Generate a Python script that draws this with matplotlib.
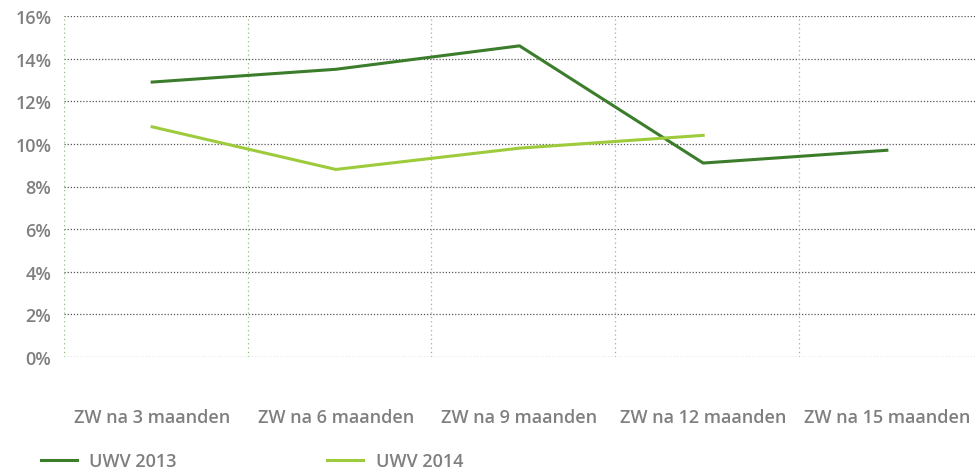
import numpy as np
import matplotlib.pyplot as plt

categories = ['ZW na 3 maanden', 'ZW na 6 maanden', 'ZW na 9 maanden',
              'ZW na 12 maanden', 'ZW na 15 maanden']
uwv_2013 = [12.9, 13.5, 14.6, 9.1, 9.7]
uwv_2014 = [10.8, 8.8, 9.8, 10.4]
yticks = [0, 2, 4, 6, 8, 10, 12, 14, 16]

dark_green = '#3b7d2b'
light_green = '#9dcb3b'
gray = '#7f7f7f'

plt.rcParams['font.family'] = ['Open Sans', 'DejaVu Sans']

fig = plt.figure(figsize=(9.79, 4.77), dpi=100)
ax = fig.add_axes([64 / 979, 1 - 358 / 477, (975 - 64) / 979, (358 - 17) / 477])

x = np.arange(len(categories))
ax.plot(x, uwv_2013, color=dark_green, lw=2.2, label='UWV 2013', zorder=3)
ax.plot(x[:len(uwv_2014)], uwv_2014, color=light_green, lw=2.2, label='UWV 2014', zorder=3)

ax.set_xlim(-0.48, len(categories) - 0.52)
ax.set_ylim(0, 16)
ax.set_yticks(yticks)
ax.set_yticklabels([f'{v}%' for v in yticks])
ax.set_xticks(x)
ax.set_xticklabels(categories)

ax.tick_params(axis='both', length=0, colors=gray, labelsize=13)
ax.tick_params(axis='x', pad=37)
ax.tick_params(axis='y', pad=9)
for lab in ax.get_xticklabels() + ax.get_yticklabels():
    lab.set_fontweight('semibold')

for s in ax.spines.values():
    s.set_visible(False)

for v in yticks:
    ax.axhline(v, color='#555555', lw=0.9, ls=(0, (1, 1.5)), zorder=1)
for b in np.arange(-0.48, len(categories), 1.0):
    ax.axvline(b, color='#8fbf7f', lw=0.9, ls=(0, (1, 2.5)), zorder=1)

leg = fig.legend(loc='lower left', bbox_to_anchor=(0.025, -0.022), ncol=2,
                 frameon=False, handlelength=2.0, handletextpad=0.7,
                 columnspacing=8.3,
                 prop={'size': 13, 'weight': 'semibold'})
for t in leg.get_texts():
    t.set_color(gray)

fig.savefig('out.png', dpi=100)
